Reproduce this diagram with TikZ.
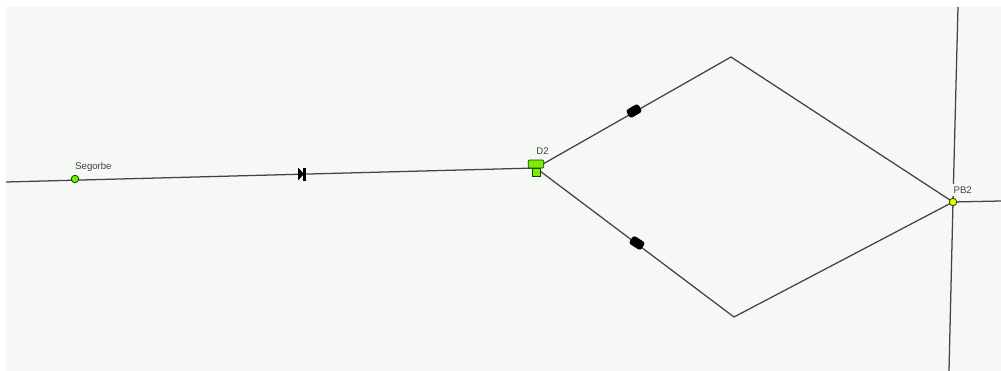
\documentclass[tikz,border=0pt]{standalone}
\usepackage{fontspec}
\setmainfont{Liberation Sans}
\definecolor{panel}{HTML}{F6F8F6}
\definecolor{pipe}{HTML}{444444}
\definecolor{junc}{HTML}{80EA00}
\tikzset{
 pipeline/.style={draw=pipe,line width=0.95pt},
 tag/.style={font=\fontsize{7.2}{8}\selectfont,text=black!75,inner sep=0pt},
 dot/.style={circle,draw=black!70!green,line width=0.6pt,inner sep=0pt,minimum size=5.6pt},
 pumpbody/.style={fill=black,rounded corners=2pt,minimum width=10.5pt,minimum height=7pt,inner sep=0pt},
}
\begin{document}
\begin{tikzpicture}[x=0.75pt,y=-0.75pt]
\useasboundingbox (0,0) rectangle (1001,371);
\fill[panel] (6,7) rectangle (1001,371);
\coordinate (w) at (6,182);
\coordinate (top) at (958,7);
\coordinate (east) at (1001,201);
\coordinate (south) at (949,371);
\coordinate (n1) at (731,57);
\coordinate (n2) at (734,317);
\coordinate (d) at (536,168);
\coordinate (seg) at (75,179);
\coordinate (pb) at (953,202);
\draw[pipeline] (w) -- (d);
\draw[pipeline] (d) -- (n1) -- (pb);
\draw[pipeline] (d) -- (n2) -- (pb);
\draw[pipeline] (top) -- (pb) -- (south);
\draw[pipeline] (pb) -- (east);
% check valve
\fill[black] (298,167.5) -- (304,174) -- (298,180.5) -- cycle;
\fill[black] (303,167.5) rectangle (306,180.5);
% pumps
\node[rotate=30,pumpbody] (p1) at (634,111) {};
\node[rotate=-32,pumpbody] (p2) at (637,243) {};
% D2
\node[fill=junc,draw=black!70!green,line width=0.6pt,minimum width=5.5pt,minimum height=6pt,inner sep=0pt] (d2b) at (536.5,172) {};
\node[fill=junc,draw=black!70!green,line width=0.6pt,rounded corners=0.8pt,minimum width=11.5pt,minimum height=6pt,inner sep=0pt] (d2a) at (536,164) {};
\node[tag,anchor=center] (d2l) at (542.5,151.5) {D2};
% Segorbe
\node[dot,fill=junc] (segd) at (seg) {};
\node[tag,anchor=west] (segl) at (75,167) {Segorbe};
% PB2
\node[dot,fill=yellow] (pbd) at (pb) {};
\node[tag,fill=panel,anchor=west,inner xsep=2.5pt,inner ysep=2pt] (pbl) at (950,190) {PB2};
\end{tikzpicture}
\end{document}
